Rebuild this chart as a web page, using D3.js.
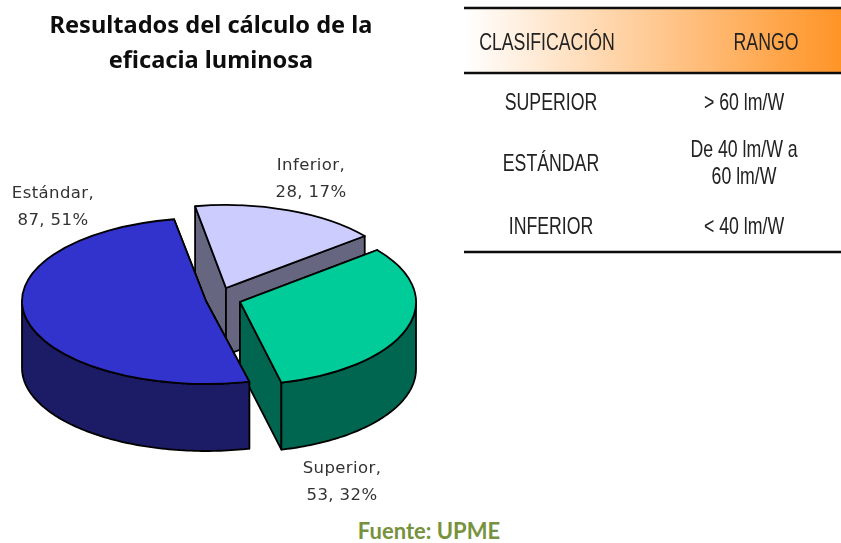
<!DOCTYPE html>
<html>
<head>
    <meta charset="utf-8">
    <title>Resultados del cálculo de la eficacia luminosa</title>
    <script src="https://cdnjs.cloudflare.com/ajax/libs/d3/7.8.5/d3.min.js"></script>
    <style>
        html, body { margin: 0; padding: 0; background: #fff; }
        svg { display: block; }
        .title { font-family: "Noto Sans", sans-serif; font-weight: 700; font-size: 23.6px; fill: #111; text-anchor: middle; }
        .slice-label { font-family: "DejaVu Sans", sans-serif; font-size: 16.5px; letter-spacing: 0.4px; fill: #333; text-anchor: middle; }
        .cell { font-family: "Liberation Sans", sans-serif; font-size: 23px; fill: #222; text-anchor: middle; }
        .source { font-family: Lato, sans-serif; font-weight: 700; font-size: 22px; fill: #76923c; text-anchor: middle; }
    </style>
</head>

<body>
    <div id="chart"></div>

    <script>
//------------------------------------DATA--------------------------
        var categories = ["Inferior", "Superior", "Estándar"];
        var values = [28, 53, 87];
        var percents = [17, 32, 51];
        var titleLines = ["Resultados del cálculo de la", "eficacia luminosa"];
        var tableHeader = ["CLASIFICACIÓN", "RANGO"];
        var tableClasses = ["SUPERIOR", "ESTÁNDAR", "INFERIOR"];
        var tableRanges = [["> 60 lm/W"], ["De 40 lm/W a", "60 lm/W"], ["< 40 lm/W"]];
        var sourceText = "Fuente: UPME";

//------------------------------------MAKES THE BOX--------------------------
        var width = 841, height = 543;
        var svg = d3.select("#chart").append("svg")
            .attr("width", width)
            .attr("height", height);

        // the reference is a soft, scaled up scan
        var defs = svg.append("defs");
        defs.append("filter").attr("id", "soft")
            .append("feGaussianBlur").attr("stdDeviation", 0.55);

        var grad = defs.append("linearGradient").attr("id", "headerFill");
        grad.append("stop").attr("offset", "0%").attr("stop-color", "#fff");
        grad.append("stop").attr("offset", "100%").attr("stop-color", "#ff9427");

        var root = svg.append("g").attr("filter", "url(#soft)");

//------------------------------------TITLE--------------------------
        root.selectAll(".title")
            .data(titleLines)
            .enter().append("text")
            .attr("class", "title")
            .attr("x", 211)
            .attr("y", function (d, i) { return 33 + i * 35; })
            .text(function (d) { return d; });

//------------------------------------MAKES THE PIE--------------------------
        var ry = 83, depth = 67;
        var startDeg = -10;
        // one exploded centre for each slice, the radius is a bit wider on the big one
        var look = {
            "Inferior": { cx: 226, cy: 288, r: 178, top: "#ccccff", wall: "#666680" },
            "Superior": { cx: 240, cy: 302, r: 176, top: "#00cc99", wall: "#006650" },
            "Estándar": { cx: 206, cy: 301, r: 184, top: "#3333cc", wall: "#1a1a66" }
        };

        // angles follow the printed percentages
        var pie = d3.pie().sort(null)
            .startAngle(startDeg * Math.PI / 180)
            .endAngle((startDeg + 360) * Math.PI / 180);
        var slices = pie(percents).map(function (s, i) {
            s.name = categories[i];
            s.count = values[i];
            s.look = look[s.name];
            return s;
        });

        var line = d3.line();
        function px(a, l) { return l.r * Math.sin(a); }
        function py(a) { return -ry * Math.cos(a); }

        var pieG = root.append("g")
            .attr("stroke", "#000")
            .attr("stroke-width", 1.8)
            .attr("stroke-linejoin", "round");

        var sliceG = pieG.selectAll("g.slice")
            .data(slices)
            .enter().append("g")
            .attr("class", "slice")
            .attr("transform", function (d) { return "translate(" + d.look.cx + "," + d.look.cy + ")"; });

        sliceG.each(function (d) {
            var g = d3.select(this), l = d.look;

            // flat cut walls, going from the tip down to the rim
            [d.startAngle, d.endAngle].forEach(function (a) {
                var x = px(a, l), y = py(a);
                g.append("path")
                    .attr("d", line([[0, 0], [x, y], [x, y + depth], [0, depth]]) + "Z")
                    .attr("fill", l.wall);
            });

            // round outer wall, only the front half shows
            var a0 = Math.max(d.startAngle, Math.PI / 2);
            var a1 = Math.min(d.endAngle, Math.PI * 1.5);
            if (a1 > a0) {
                var area = d3.area()
                    .x(function (a) { return px(a, l); })
                    .y0(function (a) { return py(a); })
                    .y1(function (a) { return py(a) + depth; });
                g.append("path")
                    .attr("d", area(d3.range(a0, a1, 0.02).concat([a1])))
                    .attr("fill", l.wall);
            }

            // top face
            var arc = d3.arc().innerRadius(0).outerRadius(l.r);
            g.append("path")
                .attr("d", arc(d))
                .attr("transform", "scale(1," + (ry / l.r) + ")")
                .attr("vector-effect", "non-scaling-stroke")
                .attr("fill", l.top);
        });

//------------------------------------MAKES LABELS--------------------------------
        var labelPos = { "Inferior": [311, 170], "Superior": [342, 473], "Estándar": [53, 198] };
        slices.forEach(function (s) {
            var p = labelPos[s.name];
            var t = root.append("text").attr("class", "slice-label");
            t.append("tspan").attr("x", p[0]).attr("y", p[1]).text(s.name + ",");
            t.append("tspan").attr("x", p[0]).attr("y", p[1] + 27).text(s.count + ", " + s.data + "%");
        });

//------------------------------------MAKES THE TABLE--------------------------------
        var tableLeft = 464, tableRight = 841;
        root.append("rect")
            .attr("x", tableLeft).attr("y", 8)
            .attr("width", tableRight - tableLeft).attr("height", 65)
            .attr("fill", "url(#headerFill)");

        root.selectAll(".rule")
            .data([8, 73, 252])
            .enter().append("line")
            .attr("class", "rule")
            .attr("x1", tableLeft).attr("x2", tableRight)
            .attr("y1", function (d) { return d; })
            .attr("y2", function (d) { return d; })
            .attr("stroke", "#111")
            .attr("stroke-width", 2.4);

        // the table font is a narrow one, none installed so squeeze the text
        function cell(txt, x, y) {
            root.append("text")
                .attr("class", "cell")
                .attr("transform", "translate(" + x + "," + y + ") scale(0.77,1)")
                .text(txt);
        }

        var rowBase = [110, 171, 234];
        cell(tableHeader[0], 547, 50);
        cell(tableHeader[1], 766, 50);
        tableClasses.forEach(function (txt, i) {
            cell(txt, 551, rowBase[i]);
        });
        tableRanges.forEach(function (lines, i) {
            lines.forEach(function (txt, j) {
                cell(txt, 744, lines.length > 1 ? 157 + j * 27 : rowBase[i]);
            });
        });

//------------------------------------SOURCE--------------------------------
        svg.append("text")
            .attr("class", "source")
            .attr("x", 429)
            .attr("y", 539)
            .text(sourceText);
    </script>
</body>
</html>
